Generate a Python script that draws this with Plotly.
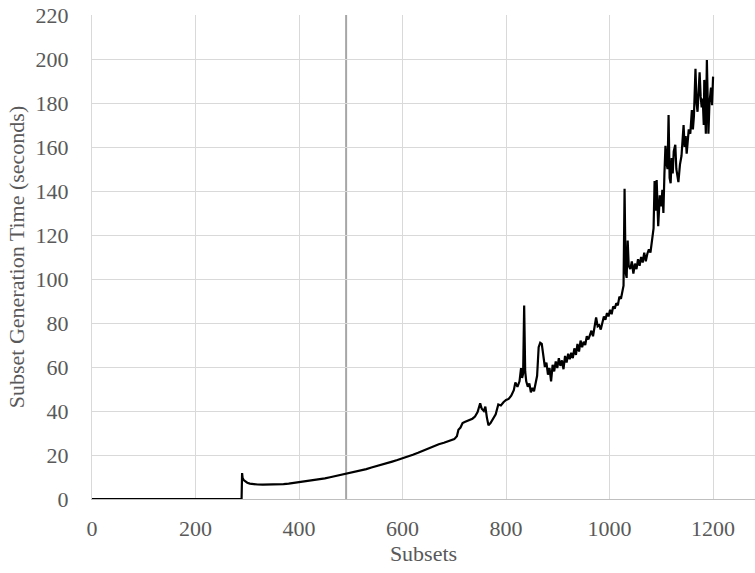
import plotly.graph_objects as go

# Subset index and generation time (seconds)
subsets = [
    0, 289, 290, 291, 293, 296, 300, 305, 310, 320, 330, 340, 350, 360, 370, 380,
    390, 400, 410, 420, 430, 440, 450, 460, 470, 480, 490, 500, 510, 520, 530, 540,
    550, 560, 570, 580, 590, 600, 610, 620, 630, 640, 650, 660, 670, 680, 690, 700,
    705, 708, 712, 716, 720, 725, 730, 735, 740, 745, 750, 753, 757, 760, 763, 766,
    770, 775, 780, 785, 790, 795, 800, 805, 810, 815, 818, 822, 826, 829, 831, 833,
    835, 837, 839, 842, 845, 848, 851, 854, 857, 860, 863, 866, 869, 872, 875, 878,
    881, 884, 887, 890, 893, 896, 899, 902, 905, 908, 911, 914, 917, 920, 923, 926,
    929, 932, 935, 938, 941, 944, 947, 950, 953, 956, 959, 962, 965, 968, 971, 974,
    977, 980, 983, 986, 989, 992, 995, 998, 1001, 1004, 1007, 1010, 1013, 1016, 1019, 1022,
    1025, 1027, 1029, 1031, 1033, 1035, 1037, 1040, 1043, 1046, 1049, 1052, 1055, 1058, 1061, 1064,
    1067, 1070, 1073, 1076, 1079, 1082, 1085, 1087, 1089, 1091, 1094, 1097, 1100, 1102, 1104, 1106,
    1108, 1110, 1112, 1114, 1116, 1118, 1120, 1122, 1124, 1127, 1129, 1131, 1133, 1136, 1139, 1141,
    1143, 1145, 1147, 1149, 1151, 1153, 1156, 1159, 1161, 1163, 1166, 1168, 1170, 1172, 1174, 1176,
    1178, 1180, 1182, 1183, 1185, 1186, 1188, 1190, 1191, 1193, 1195, 1196, 1198, 1200,
]
gen_time = [
    0.0, 0.0, 11.8, 9.5, 8.6, 8.0, 7.4, 7.0, 6.8, 6.6, 6.5, 6.5, 6.6, 6.7, 6.8, 7.0,
    7.3, 7.6, 7.9, 8.2, 8.6, 9.0, 9.4, 9.9, 10.4, 10.9, 11.3, 11.9, 12.4, 13.0, 13.6, 14.3,
    14.9, 15.6, 16.3, 17.0, 17.7, 18.4, 19.3, 20.1, 21.0, 22.0, 22.9, 23.9, 24.9, 25.6, 26.3, 27.2,
    28.5, 31.5, 32.5, 34.5, 35.0, 35.6, 36.0, 36.5, 37.5, 39.5, 43.5, 41.0, 40.0, 42.0, 37.0, 33.5,
    34.5, 36.5, 38.5, 43.0, 42.5, 44.0, 45.0, 45.5, 47.0, 49.5, 53.0, 51.0, 53.5, 59.5, 55.0, 57.0,
    88.0, 58.0, 53.5, 51.0, 52.5, 48.5, 50.5, 49.0, 53.0, 56.0, 69.0, 71.0, 70.5, 64.5, 60.0, 62.0,
    56.5, 59.5, 53.5, 61.0, 58.0, 62.5, 59.5, 64.0, 60.5, 63.0, 59.0, 65.0, 62.0, 66.0, 63.5, 66.5,
    64.0, 68.5, 65.5, 70.5, 67.0, 72.0, 69.0, 71.5, 70.0, 74.0, 72.5, 74.5, 76.5, 74.0, 79.0, 82.5,
    78.5, 79.0, 77.0, 80.5, 83.0, 81.5, 84.5, 83.0, 86.0, 84.0, 87.5, 86.5, 89.0, 88.0, 92.0, 91.0,
    95.0, 97.0, 141.0, 103.0, 100.5, 117.5, 106.0, 104.5, 108.0, 102.5, 107.0, 104.5, 109.0, 106.0, 110.0, 107.5,
    112.0, 108.0, 111.5, 113.5, 112.0, 117.0, 123.0, 144.5, 131.0, 145.0, 124.0, 138.0, 133.0, 140.5, 130.0, 148.0,
    160.5, 153.0, 150.0, 174.5, 146.0, 143.5, 155.0, 148.0, 158.0, 161.0, 150.0, 147.0, 144.0, 152.0, 156.0, 163.0,
    170.0, 160.0, 165.0, 157.0, 164.0, 168.0, 166.0, 176.8, 168.0, 174.0, 195.5, 180.0, 176.0, 185.0, 194.0, 183.0,
    178.0, 182.0, 170.0, 190.5, 175.0, 166.0, 199.5, 180.0, 166.0, 180.0, 184.0, 187.0, 179.0, 192.0,
]

x_ticks = [0, 200, 400, 600, 800, 1000, 1200]
y_ticks = [0, 20, 40, 60, 80, 100, 120, 140, 160, 180, 200, 220]
marker_subset = 491

FONT = "Liberation Serif, Times New Roman, serif"
TEXT = "#595959"
GRID = "#d9d9d9"
FS = 22

fig = go.Figure()
fig.add_trace(go.Scatter(
    x=subsets, y=gen_time, mode="lines",
    line=dict(color="black", width=2.2),
    showlegend=False, hoverinfo="skip",
))

fig.add_shape(
    type="line", xref="x", yref="paper",
    x0=marker_subset, x1=marker_subset, y0=0, y1=1,
    line=dict(color="#a6a6a6", width=2), layer="below",
)

fig.update_layout(
    width=755, height=573,
    margin=dict(l=92, r=0, t=15, b=74),
    paper_bgcolor="white", plot_bgcolor="white",
    font=dict(family=FONT, size=FS, color=TEXT),
)
fig.update_xaxes(
    range=[0, 1281], tickvals=x_ticks, ticktext=[str(v) for v in x_ticks],
    showgrid=True, gridcolor=GRID, gridwidth=1,
    showline=True, linecolor="#bfbfbf", linewidth=1,
    zeroline=False, ticks="", ticklabelstandoff=10,
    title=dict(text="Subsets", font=dict(size=FS, color=TEXT), standoff=4),
)
fig.update_yaxes(
    range=[0, 220], tickvals=y_ticks, ticktext=[str(v) for v in y_ticks],
    showgrid=True, gridcolor=GRID, gridwidth=1,
    showline=True, linecolor=GRID, linewidth=1,
    zeroline=False, ticks="", ticklabelstandoff=18,
    title=dict(text="Subset Generation Time (seconds)", font=dict(size=FS, color=TEXT), standoff=4),
)

fig.write_html("out.html")
